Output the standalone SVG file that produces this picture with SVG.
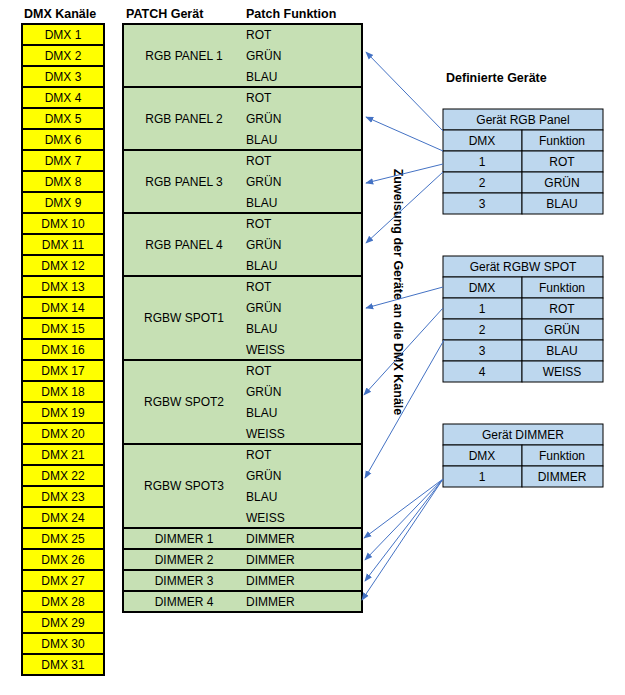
<svg xmlns="http://www.w3.org/2000/svg" width="625" height="695" viewBox="0 0 625 695">
<style>
text{font-family:"Liberation Sans",Arial,sans-serif;font-size:12px;fill:#000}
.h{font-weight:bold;font-size:12.5px}
.c{text-anchor:middle}
.y{fill:#ffff00;stroke:#000;stroke-width:2}
.g{fill:#c6e0b4;stroke:#000;stroke-width:2}
.b{fill:#bdd7ee;stroke:#000;stroke-width:1}
.a{stroke:#4472c4;stroke-width:1;fill:none;marker-end:url(#ar)}
</style>
<defs><marker id="ar" viewBox="0 0 10 10" refX="9" refY="5" markerWidth="8" markerHeight="8" orient="auto"><path d="M0,1 L10,5 L0,9 z" fill="#4472c4"/></marker></defs>
<rect width="625" height="695" fill="#fff"/>
<text class="h" x="24" y="18">DMX Kanäle</text>
<text class="h" x="126" y="18">PATCH Gerät</text>
<text class="h" x="246" y="18">Patch Funktion</text>
<text class="h" x="446" y="82">Definierte Geräte</text>
<g id="dmx">
<rect class="y" x="22" y="24" width="82" height="21"/><text class="c" x="63" y="39">DMX  1</text>
<rect class="y" x="22" y="45" width="82" height="21"/><text class="c" x="63" y="60">DMX  2</text>
<rect class="y" x="22" y="66" width="82" height="21"/><text class="c" x="63" y="81">DMX  3</text>
<rect class="y" x="22" y="87" width="82" height="21"/><text class="c" x="63" y="102">DMX  4</text>
<rect class="y" x="22" y="108" width="82" height="21"/><text class="c" x="63" y="123">DMX  5</text>
<rect class="y" x="22" y="129" width="82" height="21"/><text class="c" x="63" y="144">DMX  6</text>
<rect class="y" x="22" y="150" width="82" height="21"/><text class="c" x="63" y="165">DMX  7</text>
<rect class="y" x="22" y="171" width="82" height="21"/><text class="c" x="63" y="186">DMX  8</text>
<rect class="y" x="22" y="192" width="82" height="21"/><text class="c" x="63" y="207">DMX  9</text>
<rect class="y" x="22" y="213" width="82" height="21"/><text class="c" x="63" y="228">DMX  10</text>
<rect class="y" x="22" y="234" width="82" height="21"/><text class="c" x="63" y="249">DMX  11</text>
<rect class="y" x="22" y="255" width="82" height="21"/><text class="c" x="63" y="270">DMX  12</text>
<rect class="y" x="22" y="276" width="82" height="21"/><text class="c" x="63" y="291">DMX  13</text>
<rect class="y" x="22" y="297" width="82" height="21"/><text class="c" x="63" y="312">DMX  14</text>
<rect class="y" x="22" y="318" width="82" height="21"/><text class="c" x="63" y="333">DMX  15</text>
<rect class="y" x="22" y="339" width="82" height="21"/><text class="c" x="63" y="354">DMX  16</text>
<rect class="y" x="22" y="360" width="82" height="21"/><text class="c" x="63" y="375">DMX  17</text>
<rect class="y" x="22" y="381" width="82" height="21"/><text class="c" x="63" y="396">DMX  18</text>
<rect class="y" x="22" y="402" width="82" height="21"/><text class="c" x="63" y="417">DMX  19</text>
<rect class="y" x="22" y="423" width="82" height="21"/><text class="c" x="63" y="438">DMX  20</text>
<rect class="y" x="22" y="444" width="82" height="21"/><text class="c" x="63" y="459">DMX  21</text>
<rect class="y" x="22" y="465" width="82" height="21"/><text class="c" x="63" y="480">DMX  22</text>
<rect class="y" x="22" y="486" width="82" height="21"/><text class="c" x="63" y="501">DMX  23</text>
<rect class="y" x="22" y="507" width="82" height="21"/><text class="c" x="63" y="522">DMX  24</text>
<rect class="y" x="22" y="528" width="82" height="21"/><text class="c" x="63" y="543">DMX  25</text>
<rect class="y" x="22" y="549" width="82" height="21"/><text class="c" x="63" y="564">DMX  26</text>
<rect class="y" x="22" y="570" width="82" height="21"/><text class="c" x="63" y="585">DMX  27</text>
<rect class="y" x="22" y="591" width="82" height="21"/><text class="c" x="63" y="606">DMX  28</text>
<rect class="y" x="22" y="612" width="82" height="21"/><text class="c" x="63" y="627">DMX  29</text>
<rect class="y" x="22" y="633" width="82" height="21"/><text class="c" x="63" y="648">DMX  30</text>
<rect class="y" x="22" y="654" width="82" height="21"/><text class="c" x="63" y="669">DMX  31</text>
</g>
<g id="panel1"><rect class="g" x="123" y="24" width="239" height="63"/><text class="c" x="184" y="60">RGB PANEL 1</text><text x="246" y="39">ROT</text><text x="246" y="60">GRÜN</text><text x="246" y="81">BLAU</text></g>
<g id="panel2"><rect class="g" x="123" y="87" width="239" height="63"/><text class="c" x="184" y="123">RGB PANEL 2</text><text x="246" y="102">ROT</text><text x="246" y="123">GRÜN</text><text x="246" y="144">BLAU</text></g>
<g id="panel3"><rect class="g" x="123" y="150" width="239" height="63"/><text class="c" x="184" y="186">RGB PANEL 3</text><text x="246" y="165">ROT</text><text x="246" y="186">GRÜN</text><text x="246" y="207">BLAU</text></g>
<g id="panel4"><rect class="g" x="123" y="213" width="239" height="63"/><text class="c" x="184" y="249">RGB PANEL 4</text><text x="246" y="228">ROT</text><text x="246" y="249">GRÜN</text><text x="246" y="270">BLAU</text></g>
<g id="spot1"><rect class="g" x="123" y="276" width="239" height="84"/><text class="c" x="184" y="322">RGBW SPOT1</text><text x="246" y="291">ROT</text><text x="246" y="312">GRÜN</text><text x="246" y="333">BLAU</text><text x="246" y="354">WEISS</text></g>
<g id="spot2"><rect class="g" x="123" y="360" width="239" height="84"/><text class="c" x="184" y="406">RGBW SPOT2</text><text x="246" y="375">ROT</text><text x="246" y="396">GRÜN</text><text x="246" y="417">BLAU</text><text x="246" y="438">WEISS</text></g>
<g id="spot3"><rect class="g" x="123" y="444" width="239" height="84"/><text class="c" x="184" y="490">RGBW SPOT3</text><text x="246" y="459">ROT</text><text x="246" y="480">GRÜN</text><text x="246" y="501">BLAU</text><text x="246" y="522">WEISS</text></g>
<g id="dim1"><rect class="g" x="123" y="528" width="239" height="21"/><text class="c" x="184" y="543">DIMMER 1</text><text x="246" y="543">DIMMER</text></g>
<g id="dim2"><rect class="g" x="123" y="549" width="239" height="21"/><text class="c" x="184" y="564">DIMMER 2</text><text x="246" y="564">DIMMER</text></g>
<g id="dim3"><rect class="g" x="123" y="570" width="239" height="21"/><text class="c" x="184" y="585">DIMMER 3</text><text x="246" y="585">DIMMER</text></g>
<g id="dim4"><rect class="g" x="123" y="591" width="239" height="21"/><text class="c" x="184" y="606">DIMMER 4</text><text x="246" y="606">DIMMER</text></g>
<g id="defPanel">
<rect class="b" x="443" y="109" width="160" height="21"/><text class="c" x="523" y="124">Gerät RGB Panel</text>
<rect class="b" x="443" y="130" width="79" height="21"/><rect class="b" x="522" y="130" width="81" height="21"/><text class="c" x="482" y="145">DMX</text><text class="c" x="562" y="145">Funktion</text>
<rect class="b" x="443" y="151" width="79" height="21"/><rect class="b" x="522" y="151" width="81" height="21"/><text class="c" x="482" y="166">1</text><text class="c" x="562" y="166">ROT</text>
<rect class="b" x="443" y="172" width="79" height="21"/><rect class="b" x="522" y="172" width="81" height="21"/><text class="c" x="482" y="187">2</text><text class="c" x="562" y="187">GRÜN</text>
<rect class="b" x="443" y="193" width="79" height="21"/><rect class="b" x="522" y="193" width="81" height="21"/><text class="c" x="482" y="208">3</text><text class="c" x="562" y="208">BLAU</text>
</g>
<g id="defSpot">
<rect class="b" x="443" y="256" width="160" height="21"/><text class="c" x="523" y="271">Gerät RGBW SPOT</text>
<rect class="b" x="443" y="277" width="79" height="21"/><rect class="b" x="522" y="277" width="81" height="21"/><text class="c" x="482" y="292">DMX</text><text class="c" x="562" y="292">Funktion</text>
<rect class="b" x="443" y="298" width="79" height="21"/><rect class="b" x="522" y="298" width="81" height="21"/><text class="c" x="482" y="313">1</text><text class="c" x="562" y="313">ROT</text>
<rect class="b" x="443" y="319" width="79" height="21"/><rect class="b" x="522" y="319" width="81" height="21"/><text class="c" x="482" y="334">2</text><text class="c" x="562" y="334">GRÜN</text>
<rect class="b" x="443" y="340" width="79" height="21"/><rect class="b" x="522" y="340" width="81" height="21"/><text class="c" x="482" y="355">3</text><text class="c" x="562" y="355">BLAU</text>
<rect class="b" x="443" y="361" width="79" height="21"/><rect class="b" x="522" y="361" width="81" height="21"/><text class="c" x="482" y="376">4</text><text class="c" x="562" y="376">WEISS</text>
</g>
<g id="defDimmer">
<rect class="b" x="443" y="424" width="160" height="21"/><text class="c" x="523" y="439">Gerät DIMMER</text>
<rect class="b" x="443" y="445" width="79" height="21"/><rect class="b" x="522" y="445" width="81" height="21"/><text class="c" x="482" y="460">DMX</text><text class="c" x="562" y="460">Funktion</text>
<rect class="b" x="443" y="466" width="79" height="21"/><rect class="b" x="522" y="466" width="81" height="21"/><text class="c" x="482" y="481">1</text><text class="c" x="562" y="481">DIMMER</text>
</g>
<text class="h" transform="translate(394,292) rotate(90)" text-anchor="middle">Zuweisung der Geräte an die DMX Kanäle</text>
<g id="connectors">
<line class="a" x1="443" y1="131" x2="366" y2="52"/>
<line class="a" x1="443" y1="151" x2="366" y2="117"/>
<line class="a" x1="443" y1="164" x2="366" y2="183"/>
<line class="a" x1="443" y1="172" x2="366" y2="243"/>
<line class="a" x1="443" y1="287" x2="366" y2="308"/>
<line class="a" x1="443" y1="308" x2="364" y2="395"/>
<line class="a" x1="444" y1="340" x2="365" y2="478"/>
<line class="a" x1="443" y1="479" x2="364" y2="538"/>
<line class="a" x1="443" y1="479" x2="365" y2="560"/>
<line class="a" x1="443" y1="479" x2="365" y2="581"/>
<line class="a" x1="443" y1="479" x2="362" y2="600"/>
</g>
</svg>
